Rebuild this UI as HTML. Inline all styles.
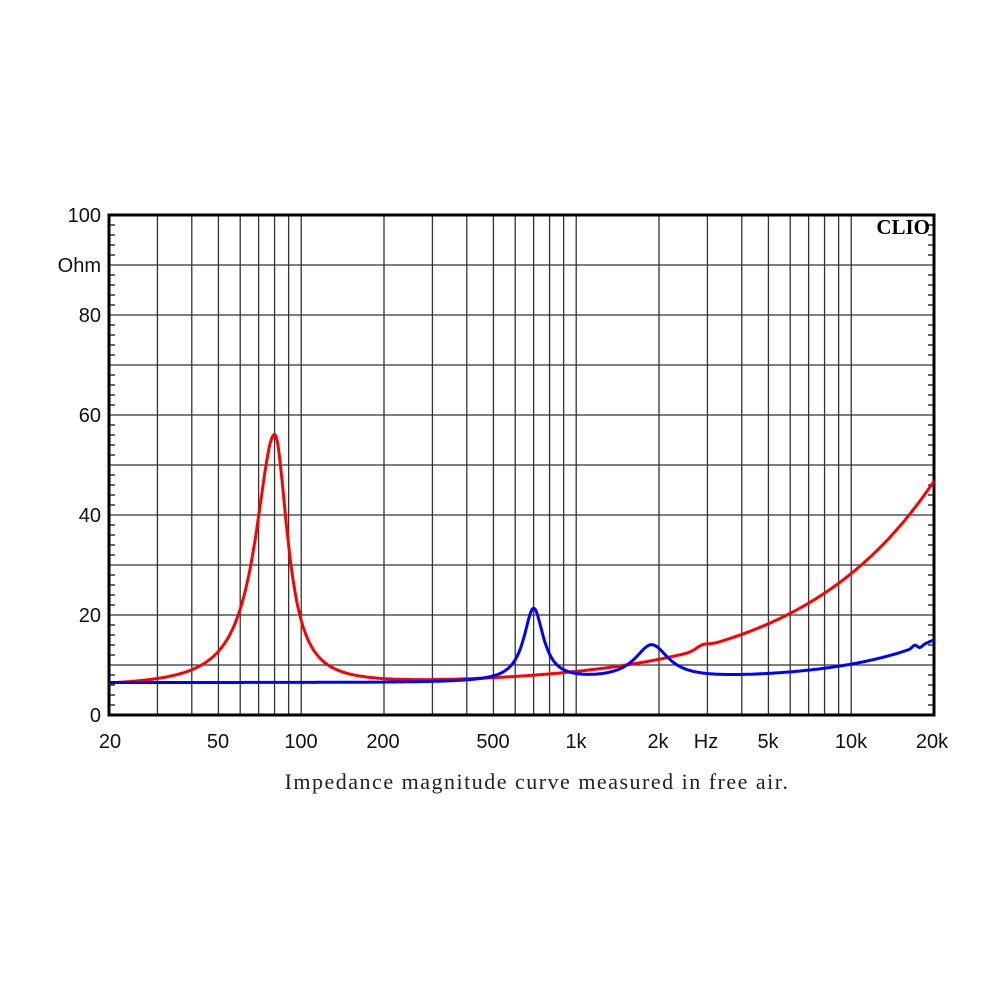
<!DOCTYPE html>
<html><head><meta charset="utf-8"><style>
html,body{margin:0;padding:0;background:#fff;}
svg{display:block;}
</style></head><body>
<svg id="s" width="1000" height="1000" viewBox="0 0 1000 1000" xmlns="http://www.w3.org/2000/svg">
<rect width="1000" height="1000" fill="#fff"/>
<g id="grid" stroke="#333" stroke-width="1.3"></g>
<g id="ticks" stroke="#000" stroke-width="1.2"></g>
<rect x="109" y="215" width="825" height="500" fill="none" stroke="#000" stroke-width="3"/>
<text x="930" y="234" font-family="Liberation Serif, serif" font-weight="bold" font-size="21" text-anchor="end">CLIO</text>
<g font-family="Liberation Sans, sans-serif" font-size="20" fill="#111" text-anchor="end">
<text x="101" y="222">100</text>
<text x="101" y="272">Ohm</text>
<text x="101" y="322">80</text>
<text x="101" y="422">60</text>
<text x="101" y="522">40</text>
<text x="101" y="622">20</text>
<text x="101" y="722">0</text>
</g>
<g font-family="Liberation Sans, sans-serif" font-size="20" fill="#111" text-anchor="middle">
<text x="110" y="748">20</text>
<text x="218" y="748">50</text>
<text x="301" y="748">100</text>
<text x="383" y="748">200</text>
<text x="493" y="748">500</text>
<text x="576" y="748">1k</text>
<text x="658" y="748">2k</text>
<text x="706" y="748">Hz</text>
<text x="768" y="748">5k</text>
<text x="851" y="748">10k</text>
<text x="932" y="748">20k</text>
</g>
<text x="537" y="789" font-family="Liberation Serif, serif" font-size="22" fill="#222" text-anchor="middle" letter-spacing="1.5">Impedance magnitude curve measured in free air.</text>
<path id="red" fill="none" stroke="#ff0000" stroke-width="3" stroke-linejoin="round"/>
<path id="blue" fill="none" stroke="#0000ff" stroke-width="3" stroke-linejoin="round"/>
</svg>
<script>
var L=109,R=934,T=215,B=715,D=(R-L)/3;
function X(f){return L+D*Math.log10(f/20);}
function Y(z){return B-z*5;}
var ns="http://www.w3.org/2000/svg";
var g=document.getElementById('grid'),tk=document.getElementById('ticks');
function line(p,x1,y1,x2,y2){var l=document.createElementNS(ns,'line');l.setAttribute('x1',x1);l.setAttribute('y1',y1);l.setAttribute('x2',x2);l.setAttribute('y2',y2);p.appendChild(l);}
[20,200,2000].forEach(function(d){for(var m=1;m<=10;m++){var f=d/2*m; if(f<=20||f>=20000)continue; if(m==1)continue; var x=X(f); line(g,x,T,x,B);}});
for(var v=10;v<100;v+=10){line(g,L,Y(v),R,Y(v));}
for(var v=2;v<100;v+=2){if(v%10==0)continue;line(tk,L,Y(v),L+6,Y(v));line(tk,R-6,Y(v),R,Y(v));}
function lor(f,f0,Q,A){var r=f/f0;var d=r-1/r;return A/(1+Q*Q*d*d);}
function lorA(f,f0,Ql,Qh,A){return lor(f,f0,f<f0?Ql:Qh,A);}
function red(f){return 6.1+lorA(f,80,2.6,3.8,50)+2.9*Math.pow(f/1000,0.88)+0.7*Math.exp(-Math.pow(Math.log10(f/2850)/0.03,2))+0.5/(1+Math.exp(-(Math.log10(f/2900))/0.01))-0.3;}
function blue(f){var base=6.5+0.3/(1+Math.pow(800/f,3));return base+lor(f,700,5,14.5)+lor(f,1880,2.9,6.8)+2.5*Math.pow(f/8000,1.3)
 +0.5*Math.exp(-Math.pow(Math.log10(f/17000)/0.012,2))-0.4*Math.exp(-Math.pow(Math.log10(f/17800)/0.012,2));}
function path(fn){var s='';for(var i=0;i<=900;i++){var f=20*Math.pow(1000,i/900);s+=(i?'L':'M')+X(f).toFixed(1)+' '+Y(fn(f)).toFixed(1);}return s;}
document.getElementById('red').setAttribute('d',path(red));
document.getElementById('blue').setAttribute('d',path(blue));
</script>
</body></html>
